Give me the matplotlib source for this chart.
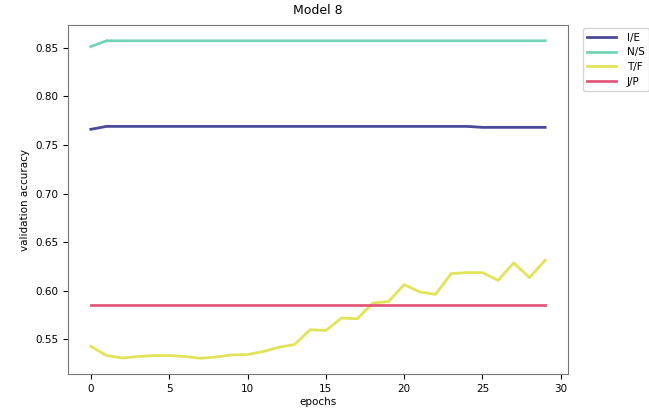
import matplotlib
matplotlib.use('Agg')
import matplotlib.pyplot as plt
import numpy as np

epochs = np.arange(30)

ie_acc = [0.766] + [0.769] * 24 + [0.768] * 5
ns_acc = [0.851] + [0.857] * 29
tf_acc = [0.543, 0.5335, 0.531, 0.5325, 0.5335, 0.5335, 0.5325, 0.5307, 0.532, 0.5342,
          0.5345, 0.5376, 0.542, 0.5448, 0.560, 0.5593, 0.572, 0.5713, 0.5874, 0.589,
          0.6064, 0.5988, 0.5964, 0.6177, 0.6187, 0.6187, 0.6108, 0.6287, 0.6136, 0.6314]
jp_acc = [0.585] * 30

labels = ['I/E', 'N/S', 'T/F', 'J/P']
colors = ['#4a4a9c', '#74d3b4', '#e3e35a', '#e2577a']

fig = plt.figure(figsize=(6.49, 4.08), dpi=100)
ax = fig.add_axes([0.105, 0.083, 0.77, 0.856])

for vals, lab, col in zip([ie_acc, ns_acc, tf_acc, jp_acc], labels, colors):
    ax.plot(epochs, vals, color=col, linewidth=2, label=lab)

ax.set_title('Model 8', fontsize=9, pad=8)
ax.set_xlabel('epochs', fontsize=7.5, labelpad=2)
ax.set_ylabel('validation accuracy', fontsize=7.5)
ax.tick_params(labelsize=7.5)
ax.set_xticks([0, 5, 10, 15, 20, 25, 30])
for s in ax.spines.values():
    s.set_color('#777777')

# legend sits outside the axes, cut by the figure edge like the original
ax.legend(bbox_to_anchor=(1.02, 1.005), loc='upper left', fontsize=7.5,
          handlelength=2.8, handletextpad=1.0, labelspacing=0.45)

fig.savefig('out.png', dpi=100)
